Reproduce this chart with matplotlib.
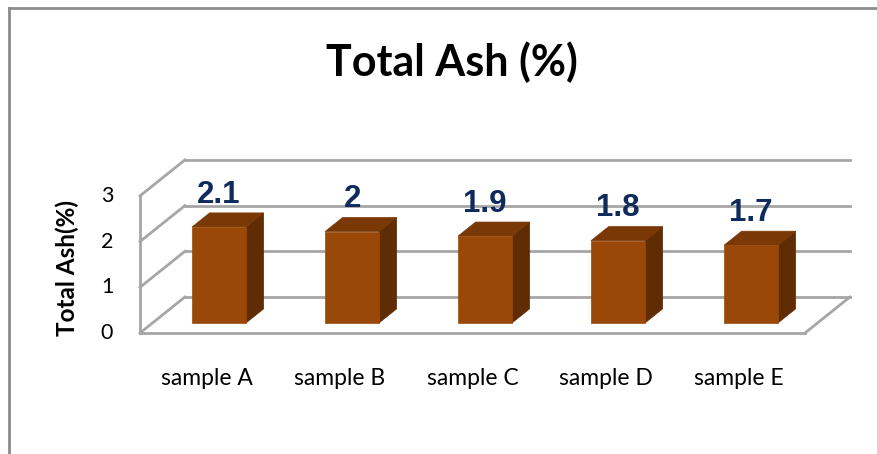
import matplotlib
matplotlib.use("Agg")
import matplotlib.pyplot as plt
from matplotlib.patches import Polygon
from matplotlib.lines import Line2D

# data
categories = ["sample A", "sample B", "sample C", "sample D", "sample E"]
values = [2.1, 2.0, 1.9, 1.8, 1.7]
value_labels = ["2.1", "2", "1.9", "1.8", "1.7"]
yticks = [0, 1, 2, 3]

# oblique 3d look (excel style)
DX, DY = 0.338, 0.788      # depth vector in data units
F, G = 0.28, 0.39           # bar front depth, bar thickness (fraction of depth)
W = 0.406                   # bar width
GRID = "#A6A6A6"

fig = plt.figure(figsize=(8.78, 4.54), dpi=100)
ax = fig.add_axes([0, 0, 1, 1])
ax.set_xlim(-1.5526, 5.049)
ax.set_ylim(-2.648, 7.287)
ax.axis("off")

n = len(categories)
x0, x1 = -0.5, n - 0.5
ymax = max(yticks)

# back wall gridlines + left side wall diagonals
for t in yticks:
    ax.plot([x0 + DX, x1 + DX], [t + DY, t + DY], color=GRID, lw=2, zorder=1)
    ax.plot([x0, x0 + DX], [t, t + DY], color=GRID, lw=2, zorder=1)
# front left edge, floor front edge and right floor diagonal
ax.plot([x0, x0], [0, ymax], color=GRID, lw=2, zorder=1)
ax.plot([x0, x1], [0, 0], color=GRID, lw=2, zorder=1)
ax.plot([x1, x1 + DX], [0, DY], color=GRID, lw=2, zorder=1)

# bars
for i, v in enumerate(values):
    fx = i - W / 2 + F * DX
    fy = F * DY
    ddx, ddy = G * DX, G * DY
    front = [(fx, fy), (fx + W, fy), (fx + W, fy + v), (fx, fy + v)]
    top = [(fx, fy + v), (fx + W, fy + v), (fx + W + ddx, fy + v + ddy), (fx + ddx, fy + v + ddy)]
    side = [(fx + W, fy), (fx + W + ddx, fy + ddy), (fx + W + ddx, fy + v + ddy), (fx + W, fy + v)]
    ax.add_patch(Polygon(side, closed=True, fc="#5F2C03", ec="#5F2C03", lw=0.5, zorder=3))
    ax.add_patch(Polygon(top, closed=True, fc="#793805", ec="#793805", lw=0.5, zorder=3))
    ax.add_patch(Polygon(front, closed=True, fc="#9A4807", ec="#9A4807", lw=0.5, zorder=4))
    ax.text(i + F * DX, v + (F + G) * DY + 0.4, value_labels[i],
            ha="center", va="center", fontsize=22.5, fontweight="bold",
            color="#0F2A5C", family="Liberation Sans", zorder=5)
    ax.text(i, -0.985, categories[i], ha="center", va="center", fontsize=16.5,
            family="Lato", color="black")

for t in yticks:
    ax.text(-0.748, t, str(t), ha="center", va="center", fontsize=15.5,
            family="Lato", color="black")

fig.text(452 / 878, 1 - 62 / 454, "Total Ash (%)", ha="center", va="center",
         fontsize=31, fontweight="bold", family="Lato")
fig.text(67 / 878, 1 - 268 / 454, "Total Ash(%)", ha="center", va="center",
         rotation=90, fontsize=17.5, fontweight="bold", family="Lato")

# chart border
fig.add_artist(Line2D([9 / 878, 9 / 878], [0, 1 - 8 / 454], color="#8C8C8C", lw=2))
fig.add_artist(Line2D([9 / 878, 1], [1 - 8 / 454, 1 - 8 / 454], color="#8C8C8C", lw=2))

fig.savefig("out.png", dpi=100)
